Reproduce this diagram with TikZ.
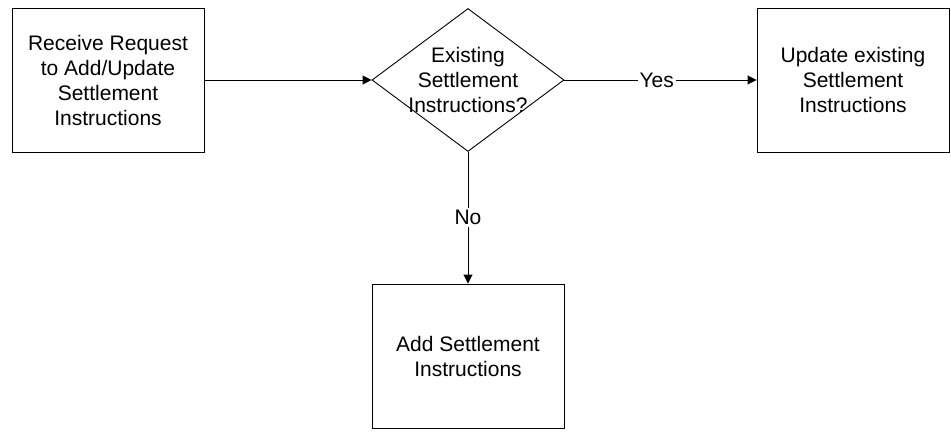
\documentclass[tikz,border=0pt]{standalone}
\usepackage{fontspec}
\setmainfont{Liberation Sans}
\usetikzlibrary{arrows.meta,shapes.geometric}
\begin{document}
\begin{tikzpicture}[x=1pt,y=-1pt,
  every node/.style={font=\fontsize{21}{25}\selectfont},
  box/.style={draw,line width=0.9pt,minimum width=192pt,minimum height=144pt,inner sep=0pt,align=center},
  decision/.style={draw,line width=0.9pt,diamond,minimum width=192pt,minimum height=143pt,inner sep=0pt,aspect=1.34},
  conn/.style={line width=0.9pt,-{Triangle[length=9pt,width=9pt]}},
  lbl/.style={fill=white,inner sep=2pt}]
\useasboundingbox (0,0) rectangle (951,433);
\node[box] (recv) at (108,80) {Receive Request\\to Add/Update\\Settlement\\Instructions};
\node[decision] (dec) at (468,80) {};
\node[align=center,inner sep=0pt] (dectext) at (dec.center) {Existing\\Settlement\\Instructions?};
\node[box] (upd) at (853,80) {Update existing\\Settlement\\Instructions};
\node[box] (add) at (468,356) {Add Settlement\\Instructions};
\draw[conn] (recv.east) -- (dec.west);
\draw[conn] (dec.east) -- node[lbl,pos=0.48] (yes) {Yes} (upd.west);
\draw[conn] (dec.south) -- node[lbl,pos=0.5] (no) {No} (add.north);
\end{tikzpicture}
\end{document}
